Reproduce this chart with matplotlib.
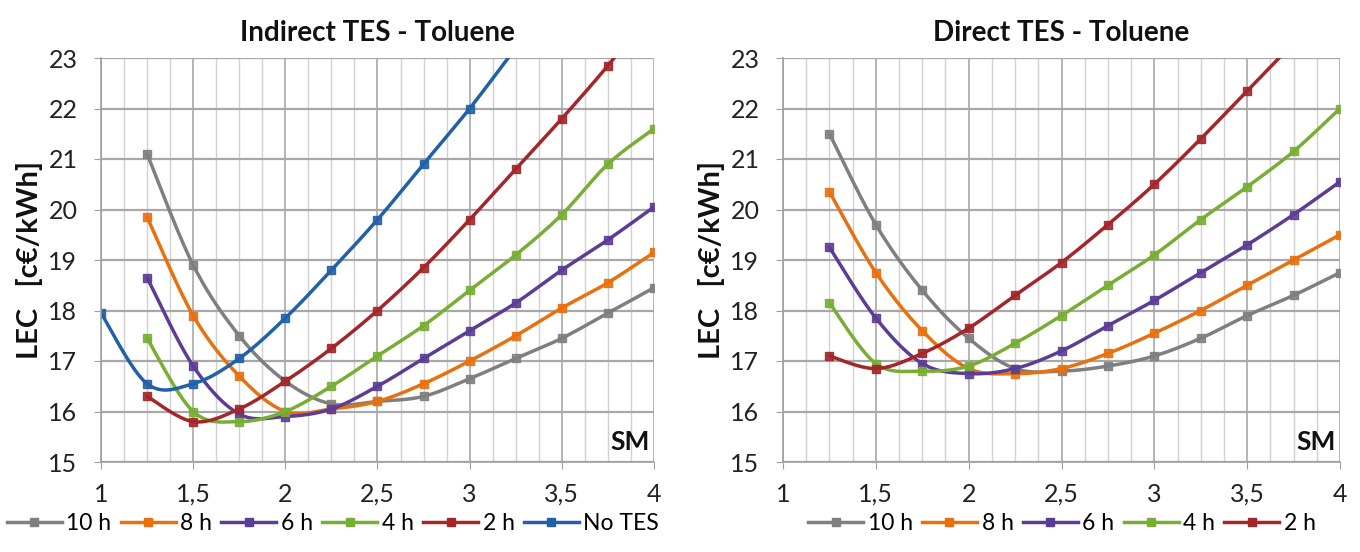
import numpy as np
import matplotlib
matplotlib.use("Agg")
import matplotlib.pyplot as plt
from matplotlib.ticker import MultipleLocator, FuncFormatter
from matplotlib.lines import Line2D

plt.rcParams['font.family'] = ['Lato', 'DejaVu Sans']

# ---------------- data ----------------
sm = [1.0, 1.25, 1.5, 1.75, 2.0, 2.25, 2.5, 2.75, 3.0, 3.25, 3.5, 3.75, 4.0]

labels_left = ["10 h", "8 h", "6 h", "4 h", "2 h", "No TES"]
labels_right = ["10 h", "8 h", "6 h", "4 h", "2 h"]

ind_10h = [None, 21.1, 18.9, 17.5, 16.6, 16.15, 16.2, 16.3, 16.65, 17.05, 17.45, 17.95, 18.45]
ind_8h = [None, 19.85, 17.9, 16.7, 16.0, 16.05, 16.2, 16.55, 17.0, 17.5, 18.05, 18.55, 19.15]
ind_6h = [None, 18.65, 16.9, 15.95, 15.9, 16.05, 16.5, 17.05, 17.6, 18.15, 18.8, 19.4, 20.05]
ind_4h = [None, 17.45, 16.0, 15.8, 16.0, 16.5, 17.1, 17.7, 18.4, 19.1, 19.9, 20.9, 21.6]
ind_2h = [None, 16.3, 15.8, 16.05, 16.6, 17.25, 18.0, 18.85, 19.8, 20.8, 21.8, 22.85, 24.0]
ind_notes = [17.95, 16.55, 16.55, 17.05, 17.85, 18.8, 19.8, 20.9, 22.0, 23.2, None, None, None]

dir_10h = [None, 21.5, 19.7, 18.4, 17.45, 16.85, 16.8, 16.9, 17.1, 17.45, 17.9, 18.3, 18.75]
dir_8h = [None, 20.35, 18.75, 17.6, 16.85, 16.75, 16.85, 17.15, 17.55, 18.0, 18.5, 19.0, 19.5]
dir_6h = [None, 19.25, 17.85, 16.95, 16.75, 16.85, 17.2, 17.7, 18.2, 18.75, 19.3, 19.9, 20.55]
dir_4h = [None, 18.15, 16.95, 16.8, 16.9, 17.35, 17.9, 18.5, 19.1, 19.8, 20.45, 21.15, 22.0]
dir_2h = [None, 17.1, 16.85, 17.15, 17.65, 18.3, 18.95, 19.7, 20.5, 21.4, 22.35, 23.3, 24.3]

colors = ['#7F7F7F', '#E8700E', '#5C3D96', '#78AE34', '#A2262A', '#2260A8']


def smooth(xs, ys, n=20):
    """Catmull-Rom smoothing (like Excel's smoothed line) for drawing."""
    pts = [(x, y) for x, y in zip(xs, ys) if y is not None]
    P = np.array(pts, dtype=float)
    if len(P) < 3:
        return P[:, 0], P[:, 1]
    Pe = np.vstack([P[0], P, P[-1]])
    out = []
    t = np.linspace(0, 1, n, endpoint=False)[:, None]
    for i in range(1, len(Pe) - 2):
        p0, p1, p2, p3 = Pe[i - 1], Pe[i], Pe[i + 1], Pe[i + 2]
        c1 = p1 + (p2 - p0) / 6.0
        c2 = p2 - (p3 - p1) / 6.0
        seg = ((1 - t) ** 3) * p1 + 3 * ((1 - t) ** 2) * t * c1 + 3 * (1 - t) * t ** 2 * c2 + t ** 3 * p2
        out.append(seg)
    out.append(P[-1][None, :])
    S = np.vstack(out)
    return S[:, 0], S[:, 1]


fig = plt.figure(figsize=(13.6, 5.52), dpi=100)
ax1 = fig.add_axes([101 / 1360, 1 - 462 / 552, 553 / 1360, 404 / 552])
ax2 = fig.add_axes([783 / 1360, 1 - 462 / 552, 557 / 1360, 404 / 552])

fmt = FuncFormatter(lambda v, p: ('%g' % v).replace('.', ','))


def draw(ax, series, labels, title):
    ax.set_xlim(1, 4)
    ax.set_ylim(15, 23)
    ax.xaxis.set_major_locator(MultipleLocator(0.5))
    ax.xaxis.set_minor_locator(MultipleLocator(0.125))
    ax.yaxis.set_major_locator(MultipleLocator(1))
    ax.xaxis.set_major_formatter(fmt)
    ax.grid(True, which='minor', axis='x', color='#D0D0D0', lw=1.0)
    ax.grid(True, which='major', axis='x', color='#A8A8A8', lw=1.2)
    ax.grid(True, which='major', axis='y', color='#A8A8A8', lw=1.6)
    ax.set_axisbelow(True)
    for s in ['top', 'right']:
        ax.spines[s].set_visible(False)
    for s in ['left', 'bottom']:
        ax.spines[s].set_color('#A0A0A0')
        ax.spines[s].set_linewidth(1.2)
    ax.tick_params(axis='both', which='major', length=5, color='#A0A0A0',
                   labelsize=18, labelcolor='#222222')
    ax.tick_params(axis='x', which='major', pad=10)
    ax.tick_params(axis='y', which='major', pad=12)
    ax.tick_params(axis='x', which='minor', length=0)
    handles = []
    for ys, lab, c in zip(series, labels, colors):
        sx, sy = smooth(sm, ys)
        ax.plot(sx, sy, color=c, lw=2.5, solid_capstyle='round')
        mx = [x for x, y in zip(sm, ys) if y is not None]
        my = [y for y in ys if y is not None]
        ax.plot(mx, my, ls='none', marker='s', ms=5.5, color=c, mec=c, alpha=0.9)
        handles.append(Line2D([], [], color=c, lw=2.5, marker='s', ms=5.5, mec=c))
    ax.set_title(title, fontsize=20, fontweight='bold', pad=12, color='#111111')
    ax.set_ylabel('LEC   [c€/kWh]', fontsize=21, fontweight='bold', labelpad=4, color='#111111')
    ax.text(0.992, 0.02, 'SM', transform=ax.transAxes, ha='right', va='bottom',
            fontsize=19, fontweight='bold', color='#111111')
    return handles


h1 = draw(ax1, [ind_10h, ind_8h, ind_6h, ind_4h, ind_2h, ind_notes], labels_left,
          'Indirect TES - Toluene')
h2 = draw(ax2, [dir_10h, dir_8h, dir_6h, dir_4h, dir_2h], labels_right,
          'Direct TES - Toluene')

fig.legend(h1, labels_left, loc='center', bbox_to_anchor=(333 / 1360, 1 - 524 / 552),
           ncol=6, frameon=False, fontsize=16.5, handlelength=2.4, handletextpad=0.2,
           columnspacing=0.4)
fig.legend(h2, labels_right, loc='center', bbox_to_anchor=(1062 / 1360, 1 - 524 / 552),
           ncol=5, frameon=False, fontsize=16.5, handlelength=2.4, handletextpad=0.2,
           columnspacing=0.4)

fig.savefig('out.png', dpi=100, facecolor='white')
